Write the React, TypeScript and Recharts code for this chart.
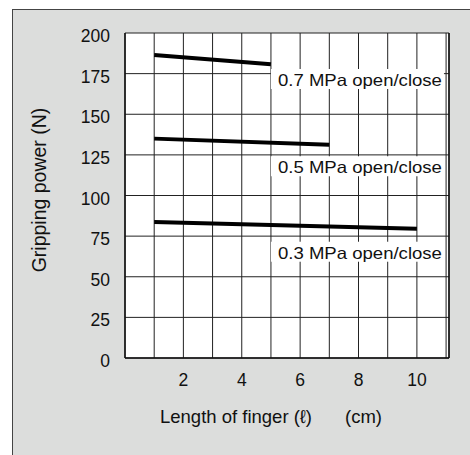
import React from "react";
import {
  CartesianGrid,
  Line,
  LineChart,
  ReferenceDot,
  ReferenceLine,
  XAxis,
  YAxis,
} from "recharts";

// finger length (cm) vs gripping power (N), one pair of arrays per supply pressure
const finger07 = [1, 5];
const power07 = [186.5, 180.7];
const finger05 = [1, 7];
const power05 = [135, 131.3];
const finger03 = [1, 10];
const power03 = [83.7, 79.6];

const pressureLabels = ["0.7 MPa open/close", "0.5 MPa open/close", "0.3 MPa open/close"];
const labelAnchorX = 5;
const labelAnchorY = [171.7, 118, 65.4];

const xTicks = [1, 2, 3, 4, 5, 6, 7, 8, 9, 10, 11];
const xTickLabels = ["2", "4", "6", "8", "10"];
const yTicks = [0, 25, 50, 75, 100, 125, 150, 175, 200];

const FONT = '"Liberation Sans", Arial, sans-serif';

const toPoints = (xs: number[], ys: number[]) => xs.map((x, i) => ({ x, y: ys[i] }));

const series = [
  toPoints(finger07, power07),
  toPoints(finger05, power05),
  toPoints(finger03, power03),
];

function YTick({ x, y, payload }: any) {
  return (
    <text x={x} y={y + 3} textAnchor="end" dominantBaseline="central" fontSize={17.5} fill="#111" fontFamily={FONT}>
      {payload.value}
    </text>
  );
}

function XTick({ x, y, payload }: any) {
  const label = String(payload.value);
  if (!xTickLabels.includes(label)) return null;
  return (
    <text x={x} y={y} textAnchor="middle" dominantBaseline="central" fontSize={17.5} fill="#111" fontFamily={FONT}>
      {label}
    </text>
  );
}

function PressureTag({ cx, cy, text }: any) {
  return (
    <g>
      <rect x={cx} y={cy - 10} width={173} height={20} fill="#fff" />
      <text
        x={cx + 7}
        y={cy + 1}
        dominantBaseline="central"
        fontSize={16.5}
        fill="#111"
        fontFamily={FONT}
        textLength={164}
        lengthAdjust="spacingAndGlyphs"
      >
        {text}
      </text>
    </g>
  );
}

export default function App() {
  return (
    <div style={{ position: "absolute", left: 0, top: 0, width: 470, height: 455, background: "#fff", overflow: "hidden", fontFamily: FONT }}>
      <div
        style={{
          position: "absolute",
          left: 12,
          top: 9,
          width: 470,
          height: 460,
          background: "#dcdddc",
          borderTop: "1.5px solid #444",
          borderLeft: "1.5px solid #444",
        }}
      />
      <div style={{ position: "absolute", left: 0, top: 0 }}>
        <LineChart width={470} height={455} margin={{ top: 33, right: 21, left: 0, bottom: 0 }}>
          <CartesianGrid stroke="#222" strokeWidth={1} fill="#fff" fillOpacity={1} />
          <XAxis
            type="number"
            dataKey="x"
            domain={[0, 11.1]}
            ticks={xTicks}
            interval={0}
            allowDataOverflow
            height={97}
            tickLine={false}
            tickSize={0}
            tickMargin={22}
            axisLine={{ stroke: "#111", strokeWidth: 1.5 }}
            tick={<XTick />}
          />
          <YAxis
            type="number"
            domain={[0, 200]}
            ticks={yTicks}
            interval={0}
            width={125}
            tickLine={false}
            tickSize={0}
            tickMargin={15}
            axisLine={{ stroke: "#111", strokeWidth: 1.5 }}
            tick={<YTick />}
          />
          <ReferenceLine x={11.1} stroke="#111" strokeWidth={1.5} />
          {series.map((points, i) => (
            <Line
              key={pressureLabels[i]}
              data={points}
              dataKey="y"
              type="linear"
              stroke="#000"
              strokeWidth={4}
              dot={false}
              activeDot={false}
              isAnimationActive={false}
            />
          ))}
          {pressureLabels.map((text, i) => (
            <ReferenceDot
              key={text}
              x={labelAnchorX}
              y={labelAnchorY[i]}
              r={1}
              shape={(p: any) => <PressureTag cx={p.cx} cy={p.cy} text={text} />}
            />
          ))}
        </LineChart>
      </div>
      <div style={{ position: "absolute", left: 160, top: 406, fontSize: 18.5, color: "#111", whiteSpace: "nowrap" }}>
        Length of finger (ℓ)
      </div>
      <div style={{ position: "absolute", left: 345, top: 406, fontSize: 18.5, color: "#111", whiteSpace: "nowrap" }}>
        (cm)
      </div>
      <div
        style={{
          position: "absolute",
          left: 39,
          top: 190,
          fontSize: 19.5,
          color: "#111",
          whiteSpace: "nowrap",
          transform: "translate(-50%, -50%) rotate(-90deg)",
        }}
      >
        Gripping power (N)
      </div>
    </div>
  );
}
